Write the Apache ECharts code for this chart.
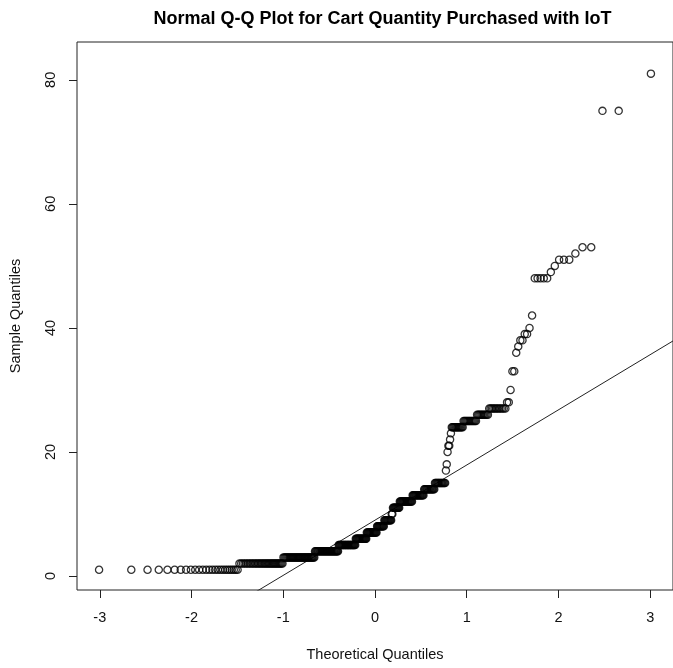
<!DOCTYPE html>
<html>
<head>
<meta charset="utf-8">
<title>Normal Q-Q Plot</title>
<script src="https://cdn.jsdelivr.net/npm/echarts@6/dist/echarts.min.js"></script>
<style>
  html, body { margin: 0; padding: 0; background: #ffffff; }
  #chart { width: 673px; height: 668px; }
</style>
</head>
<body>
<div id="chart"></div>
<script>
// Cart quantity purchased with IoT: distinct quantities and how often each occurs
const sampleValues = [1, 2, 3, 4, 5, 6, 7, 8, 9, 10, 11, 12, 13, 14, 15,
  17, 18, 20, 21, 22, 23, 24, 25, 26, 27, 28,
  30, 33, 36, 37, 38, 39, 40, 42, 48, 49, 50, 51, 52, 53, 75, 81];
const valueCounts = [26, 34, 37, 34, 27, 18, 17, 12, 12, 2, 11, 20, 17, 15, 14,
  1, 1, 1, 2, 1, 1, 13, 13, 10, 12, 2,
  1, 2, 1, 1, 2, 2, 1, 1, 5, 1, 1, 3, 1, 2, 2, 1];

// Tick labels
const xTicks = [-3, -2, -1, 0, 1, 2, 3];
const yTicks = [0, 20, 40, 60, 80];

const FONT = '"Liberation Sans", Arial, Helvetica, sans-serif';

// Inverse standard normal CDF (Acklam's rational approximation)
function qnorm(p) {
  const a = [-3.969683028665376e+01, 2.209460984245205e+02, -2.759285104469687e+02,
             1.383577518672690e+02, -3.066479806614716e+01, 2.506628277459239e+00];
  const b = [-5.447609879822406e+01, 1.615858368580409e+02, -1.556989798598866e+02,
             6.680131188771972e+01, -1.328068155288572e+01];
  const c = [-7.784894002430293e-03, -3.223964580411365e-01, -2.400758277161838e+00,
             -2.549732539343734e+00, 4.374664141464968e+00, 2.938163982698783e+00];
  const d = [7.784695709041462e-03, 3.224671290700398e-01, 2.445134137142996e+00,
             3.754408661907416e+00];
  const pl = 0.02425;
  if (p < pl) {
    const q = Math.sqrt(-2 * Math.log(p));
    return (((((c[0]*q+c[1])*q+c[2])*q+c[3])*q+c[4])*q+c[5]) /
           ((((d[0]*q+d[1])*q+d[2])*q+d[3])*q+1);
  }
  if (p > 1 - pl) {
    const q = Math.sqrt(-2 * Math.log(1 - p));
    return -(((((c[0]*q+c[1])*q+c[2])*q+c[3])*q+c[4])*q+c[5]) /
            ((((d[0]*q+d[1])*q+d[2])*q+d[3])*q+1);
  }
  const q = p - 0.5, r = q * q;
  return (((((a[0]*r+a[1])*r+a[2])*r+a[3])*r+a[4])*r+a[5]) * q /
         (((((b[0]*r+b[1])*r+b[2])*r+b[3])*r+b[4])*r+1);
}

// Sample quantile (type 7)
function quantile(sorted, p) {
  const h = (sorted.length - 1) * p;
  const lo = Math.floor(h);
  const hi = Math.min(lo + 1, sorted.length - 1);
  return sorted[lo] + (h - lo) * (sorted[hi] - sorted[lo]);
}

// Sorted sample
const sample = [];
sampleValues.forEach((v, k) => {
  for (let j = 0; j < valueCounts[k]; j++) sample.push(v);
});
const n = sample.length;

// Plotting positions (i - 1/2) / n against the sorted sample
const points = sample.map((v, i) => [qnorm((i + 0.5) / n), v]);

// Reference line through the first and third quartiles
const q1x = qnorm(0.25), q3x = qnorm(0.75);
const q1y = quantile(sample, 0.25), q3y = quantile(sample, 0.75);
const slope = (q3y - q1y) / (q3x - q1x);
const intercept = q1y - slope * q1x;

// Axis extents padded by 4% of the data range
const tMin = points[0][0], tMax = points[n - 1][0];
const xPad = 0.04 * (tMax - tMin);
const xMin = tMin - xPad, xMax = tMax + xPad;

const lineData = [[xMin, intercept + slope * xMin], [xMax, intercept + slope * xMax]];

const chart = echarts.init(document.getElementById('chart'), null, { renderer: 'canvas' });
chart.setOption({
  animation: false,
  backgroundColor: '#ffffff',
  title: {
    text: 'Normal Q-Q Plot for Cart Quantity Purchased with IoT',
    left: 377.5,
    top: 5,
    textAlign: 'center',
    textStyle: { fontFamily: FONT, fontSize: 18, fontWeight: 'bold', color: '#000' }
  },
  grid: {
    left: 76, top: 42, width: 603, height: 548,
    show: true, borderColor: '#222', borderWidth: 1, backgroundColor: 'transparent',
    containLabel: false
  },
  xAxis: {
    type: 'value',
    min: xMin,
    max: xMax,
    position: 'bottom',
    name: 'Theoretical Quantiles',
    nameLocation: 'middle',
    nameGap: 57,
    nameTextStyle: { fontFamily: FONT, fontSize: 14.5, color: '#111' },
    axisLine: { show: false, onZero: false },
    splitLine: { show: false },
    axisTick: { show: true, inside: false, length: 8, customValues: xTicks,
                lineStyle: { color: '#222', width: 1 } },
    axisLabel: { show: true, margin: 20, customValues: xTicks,
                 fontFamily: FONT, fontSize: 14.5, color: '#111' }
  },
  yAxis: {
    type: 'value',
    min: -2.26,
    max: 86.1,
    position: 'left',
    name: 'Sample Quantiles',
    nameLocation: 'middle',
    nameGap: 54,
    nameTextStyle: { fontFamily: FONT, fontSize: 14.5, color: '#111' },
    axisLine: { show: false, onZero: false },
    splitLine: { show: false },
    axisTick: { show: true, inside: false, length: 8, customValues: yTicks,
                lineStyle: { color: '#222', width: 1 } },
    axisLabel: { show: true, margin: 19, rotate: 90, customValues: yTicks,
                 fontFamily: FONT, fontSize: 14.5, color: '#111' }
  },
  series: [
    {
      type: 'scatter',
      data: points,
      symbol: 'circle',
      symbolSize: 7.2,
      silent: true,
      itemStyle: { color: 'rgba(0,0,0,0)', borderColor: '#000', borderWidth: 1.3 },
      z: 3
    },
    {
      type: 'line',
      data: lineData,
      symbol: 'none',
      silent: true,
      clip: true,
      lineStyle: { color: '#222', width: 1 },
      z: 2
    }
  ]
});
</script>
</body>
</html>
